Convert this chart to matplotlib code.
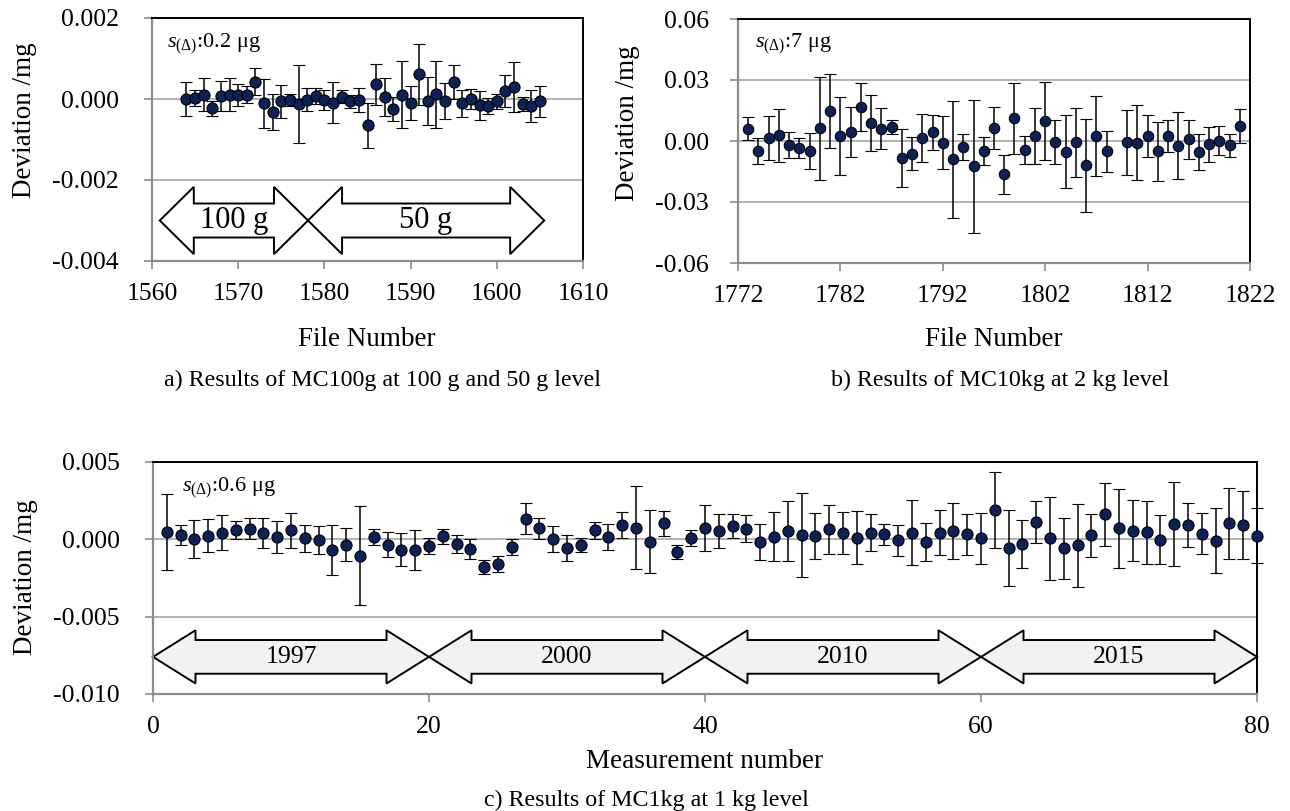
import matplotlib
matplotlib.use('Agg')
import matplotlib.pyplot as plt
from matplotlib.patches import Polygon
from matplotlib.ticker import FormatStrFormatter

plt.rcParams['font.family'] = ['Liberation Serif', 'DejaVu Serif']
plt.rcParams['mathtext.fontset'] = 'custom'
plt.rcParams['mathtext.rm'] = 'Liberation Serif'
plt.rcParams['mathtext.it'] = 'Liberation Serif:italic'
plt.rcParams['axes.unicode_minus'] = False

# ---------------- data ----------------
# a) MC100g
file_a = [1564, 1565, 1566, 1567, 1568, 1569, 1570, 1571, 1572, 1573, 1574, 1575, 1576, 1577,
          1578, 1579, 1580, 1581, 1582, 1583, 1584, 1585, 1586, 1587, 1588, 1589, 1590, 1591,
          1592, 1593, 1594, 1595, 1596, 1597, 1598, 1599, 1600, 1601, 1602, 1603, 1604, 1605]
dev_a = [0.00000, 0.00002, 0.00011, -0.00023, 0.00008, 0.00011, 0.00010, 0.00011, 0.00043, -0.00011,
         -0.00032, -0.00006, -0.00002, -0.00012, -0.00002, 0.00007, -0.00003, -0.00009, 0.00006, -0.00006,
         -0.00002, -0.00065, 0.00036, 0.00005, -0.00025, 0.00011, -0.00011, 0.00061, -0.00005, 0.00012,
         -0.00005, 0.00043, -0.00011, 0.00000, -0.00016, -0.00018, -0.00006, 0.00020, 0.00029, -0.00012,
         -0.00017, -0.00006]
err_a = [0.00043, 0.00020, 0.00040, 0.00018, 0.00037, 0.00040, 0.00027, 0.00020, 0.00034, 0.00060,
         0.00045, 0.00040, 0.00015, 0.00096, 0.00028, 0.00020, 0.00025, 0.00050, 0.00015, 0.00016,
         0.00029, 0.00055, 0.00050, 0.00047, 0.00030, 0.00083, 0.00042, 0.00075, 0.00060, 0.00083,
         0.00044, 0.00042, 0.00034, 0.00025, 0.00035, 0.00020, 0.00018, 0.00039, 0.00062, 0.00018,
         0.00039, 0.00038]
seg_a_bounds = [1560.9, 1578.1, 1605.5]
seg_a_labels = ['100 g', '50 g']

# b) MC10kg
file_b = [1773, 1774, 1775, 1776, 1777, 1778, 1779, 1780, 1781, 1782, 1783, 1784, 1785, 1786,
          1787, 1788, 1789, 1790, 1791, 1792, 1793, 1794, 1795, 1796, 1797, 1798, 1799, 1800,
          1801, 1802, 1803, 1804, 1805, 1806, 1807, 1808, 1810, 1811, 1812, 1813, 1814, 1815,
          1816, 1817, 1818, 1819, 1820, 1821]
dev_b = [0.0061, -0.0049, 0.0016, 0.0028, -0.0020, -0.0034, -0.0051, 0.0062, 0.0146, 0.0026,
         0.0043, 0.0167, 0.0089, 0.0061, 0.0069, -0.0084, -0.0062, 0.0015, 0.0043, -0.0008,
         -0.0090, -0.0030, -0.0125, -0.0048, 0.0064, -0.0164, 0.0112, -0.0043, 0.0025, 0.0098,
         -0.0005, -0.0052, -0.0007, -0.0120, 0.0025, -0.0051, -0.0007, -0.0008, 0.0026, -0.0051,
         0.0025, -0.0023, 0.0008, -0.0054, -0.0016, 0.0002, -0.0021, 0.0072]
err_b = [0.0055, 0.0062, 0.0108, 0.0129, 0.0064, 0.0049, 0.0088, 0.0253, 0.0182, 0.0191,
         0.0123, 0.0116, 0.0138, 0.0102, 0.0036, 0.0142, 0.0080, 0.0120, 0.0085, 0.0131,
         0.0287, 0.0062, 0.0326, 0.0070, 0.0103, 0.0097, 0.0175, 0.0070, 0.0138, 0.0193,
         0.0109, 0.0178, 0.0170, 0.0228, 0.0197, 0.0099, 0.0159, 0.0185, 0.0103, 0.0145,
         0.0080, 0.0166, 0.0095, 0.0090, 0.0085, 0.0073, 0.0056, 0.0084]

# c) MC1kg
meas_c = [1, 2, 3, 4, 5, 6, 7, 8, 9, 10, 11, 12, 13, 14, 15, 16, 17, 18, 19, 20,
          21, 22, 23, 24, 25, 26, 27, 28, 29, 30, 31, 32, 33, 34, 35, 36, 37, 38, 39, 40,
          41, 42, 43, 44, 45, 46, 47, 48, 49, 50, 51, 52, 53, 54, 55, 56, 57, 58, 59, 60,
          61, 62, 63, 64, 65, 66, 67, 68, 69, 70, 71, 72, 73, 74, 75, 76, 77, 78, 79, 80]
dev_c = [0.00047, 0.00028, 0.00002, 0.00024, 0.00043, 0.00060, 0.00069, 0.00039, 0.00015, 0.00058,
         0.00006, -0.00006, -0.00069, -0.00034, -0.00107, 0.00015, -0.00034, -0.00067, -0.00071, -0.00043,
         0.00019, -0.00032, -0.00060, -0.00180, -0.00159, -0.00052, 0.00133, 0.00071, 0.00000, -0.00054,
         -0.00037, 0.00058, 0.00017, 0.00092, 0.00075, -0.00015, 0.00103, -0.00080, 0.00006, 0.00071,
         0.00054, 0.00086, 0.00069, -0.00019, 0.00017, 0.00054, 0.00028, 0.00021, 0.00064, 0.00039,
         0.00011, 0.00043, 0.00032, -0.00006, 0.00043, -0.00017, 0.00043, 0.00056, 0.00032, 0.00006,
         0.00187, -0.00058, -0.00030, 0.00114, 0.00006, -0.00058, -0.00039, 0.00026, 0.00161, 0.00071,
         0.00056, 0.00045, -0.00002, 0.00099, 0.00092, 0.00037, -0.00009, 0.00105, 0.00092, 0.00024]
err_c = [0.00243, 0.00063, 0.00124, 0.00108, 0.00113, 0.00056, 0.00069, 0.00098, 0.00104, 0.00113,
         0.00085, 0.00092, 0.00163, 0.00106, 0.00320, 0.00053, 0.00080, 0.00106, 0.00129, 0.00054,
         0.00048, 0.00059, 0.00065, 0.00045, 0.00050, 0.00052, 0.00099, 0.00070, 0.00084, 0.00084,
         0.00046, 0.00054, 0.00085, 0.00085, 0.00268, 0.00203, 0.00079, 0.00045, 0.00052, 0.00149,
         0.00107, 0.00079, 0.00087, 0.00115, 0.00157, 0.00193, 0.00270, 0.00147, 0.00160, 0.00137,
         0.00173, 0.00120, 0.00069, 0.00100, 0.00210, 0.00124, 0.00147, 0.00182, 0.00134, 0.00164,
         0.00246, 0.00245, 0.00155, 0.00137, 0.00267, 0.00198, 0.00268, 0.00140, 0.00204, 0.00256,
         0.00197, 0.00204, 0.00160, 0.00269, 0.00142, 0.00133, 0.00209, 0.00230, 0.00220, 0.00180]
seg_c_bounds = [0, 20, 40, 60, 80]
seg_c_labels = ['1997', '2000', '2010', '2015']

# ---------------- figure ----------------
W, H = 1290, 811
fig = plt.figure(figsize=(W / 100, H / 100), dpi=100)

MARKER = '#0b2259'
AXGRAY = '#8c8c8c'
GRID = '#a6a6a6'
TICK_FS = 18.5
LABEL_FS = 19.5
CAP_FS = 17.3


def add_ax(l, r, t, b):
    return fig.add_axes([l / W, 1 - b / H, (r - l) / W, (b - t) / H])


def ftext(x, y, s, **kw):
    kw.setdefault('ha', 'center')
    kw.setdefault('va', 'center')
    return fig.text(x / W, 1 - y / H, s, **kw)


def style(ax, xlim, ylim, xticks, yticks, yfmt, ypad, xpad):
    ax.set_xlim(*xlim)
    ax.set_ylim(*ylim)
    ax.set_xticks(xticks)
    ax.set_yticks(yticks)
    ax.yaxis.set_major_formatter(FormatStrFormatter(yfmt))
    for s in ['top', 'right']:
        ax.spines[s].set_color('black')
        ax.spines[s].set_linewidth(1.4)
    for s in ['left', 'bottom']:
        ax.spines[s].set_color(AXGRAY)
        ax.spines[s].set_linewidth(1.6)
    ax.tick_params(axis='both', direction='out', length=6, width=1.2, color=AXGRAY,
                   labelsize=TICK_FS)
    ax.tick_params(axis='y', pad=ypad)
    ax.tick_params(axis='x', pad=xpad)
    ax.grid(axis='y', color=GRID, linewidth=1.2)
    ax.set_axisbelow(True)


def points(ax, x, y, e, ms=8, cap=4):
    ax.errorbar(x, y, yerr=e, fmt='o', color=MARKER, markerfacecolor=MARKER,
                markeredgecolor='black', markeredgewidth=0.8, markersize=ms,
                ecolor='black', elinewidth=1.1, capsize=cap, capthick=1.1,
                clip_on=False, zorder=3)


def double_arrows(ax, bounds, labels, yc, head_half, shaft_half, head_len, face, fs):
    for i, lab in enumerate(labels):
        x0, x1 = bounds[i], bounds[i + 1]
        pts = [(x0, yc), (x0 + head_len, yc + head_half), (x0 + head_len, yc + shaft_half),
               (x1 - head_len, yc + shaft_half), (x1 - head_len, yc + head_half), (x1, yc),
               (x1 - head_len, yc - head_half), (x1 - head_len, yc - shaft_half),
               (x0 + head_len, yc - shaft_half), (x0 + head_len, yc - head_half)]
        ax.add_patch(Polygon(pts, closed=True, facecolor=face, edgecolor='black',
                             linewidth=1.4, zorder=2, clip_on=False))
        ax.text((x0 + x1) / 2, yc, lab, ha='center', va='center', fontsize=fs, zorder=4)


# ---- panel a ----
ax_a = add_ax(152, 583, 18, 261)
style(ax_a, (1560, 1610), (-0.004, 0.002), [1560, 1570, 1580, 1590, 1600, 1610],
      [-0.004, -0.002, 0.0, 0.002], '%.3f', 18, 10)
points(ax_a, file_a, dev_a, err_a, ms=8, cap=4)
double_arrows(ax_a, seg_a_bounds, seg_a_labels, -0.003, 0.00083, 0.00042, 3.95, 'white', 22)
ax_a.text(0.035, 0.895, r'$s_{(\Delta)}$:0.2 μg', transform=ax_a.transAxes,
          ha='left', va='center', fontsize=16)
ftext(367, 339, 'File Number', fontsize=LABEL_FS)
ftext(25, 120, 'Deviation /mg', fontsize=LABEL_FS, rotation=90)
ftext(382, 380, 'a) Results of MC100g at 100 g and 50 g level', fontsize=CAP_FS)

# ---- panel b ----
ax_b = add_ax(738, 1250, 19, 263)
style(ax_b, (1772, 1822), (-0.06, 0.06), [1772, 1782, 1792, 1802, 1812, 1822],
      [-0.06, -0.03, 0.0, 0.03, 0.06], '%.2f', 15, 10)
points(ax_b, file_b, dev_b, err_b, ms=7.5, cap=4)
ax_b.text(0.033, 0.9, r'$s_{(\Delta)}$:7 μg', transform=ax_b.transAxes,
          ha='left', va='center', fontsize=16)
ftext(994, 339, 'File Number', fontsize=LABEL_FS)
ftext(628, 123, 'Deviation /mg', fontsize=LABEL_FS, rotation=90)
ftext(1000, 380, 'b) Results of MC10kg at 2 kg level', fontsize=CAP_FS)

# ---- panel c ----
ax_c = add_ax(153, 1257, 462, 694)
style(ax_c, (0, 80), (-0.010, 0.005), [0, 20, 40, 60, 80],
      [-0.010, -0.005, 0.0, 0.005], '%.3f', 18, 10)
points(ax_c, meas_c, dev_c, err_c, ms=8, cap=4)
double_arrows(ax_c, seg_c_bounds, seg_c_labels, -0.0076, 0.00172, 0.00109, 3.08, '#f2f2f2', 18.5)
ax_c.text(0.026, 0.89, r'$s_{(\Delta)}$:0.6 μg', transform=ax_c.transAxes,
          ha='left', va='center', fontsize=16)
ftext(705, 762, 'Measurement number', fontsize=LABEL_FS)
ftext(26, 577, 'Deviation /mg', fontsize=LABEL_FS, rotation=90)
ftext(646, 800, 'c) Results of MC1kg at 1 kg level', fontsize=CAP_FS)

fig.savefig('out.png', dpi=100)
